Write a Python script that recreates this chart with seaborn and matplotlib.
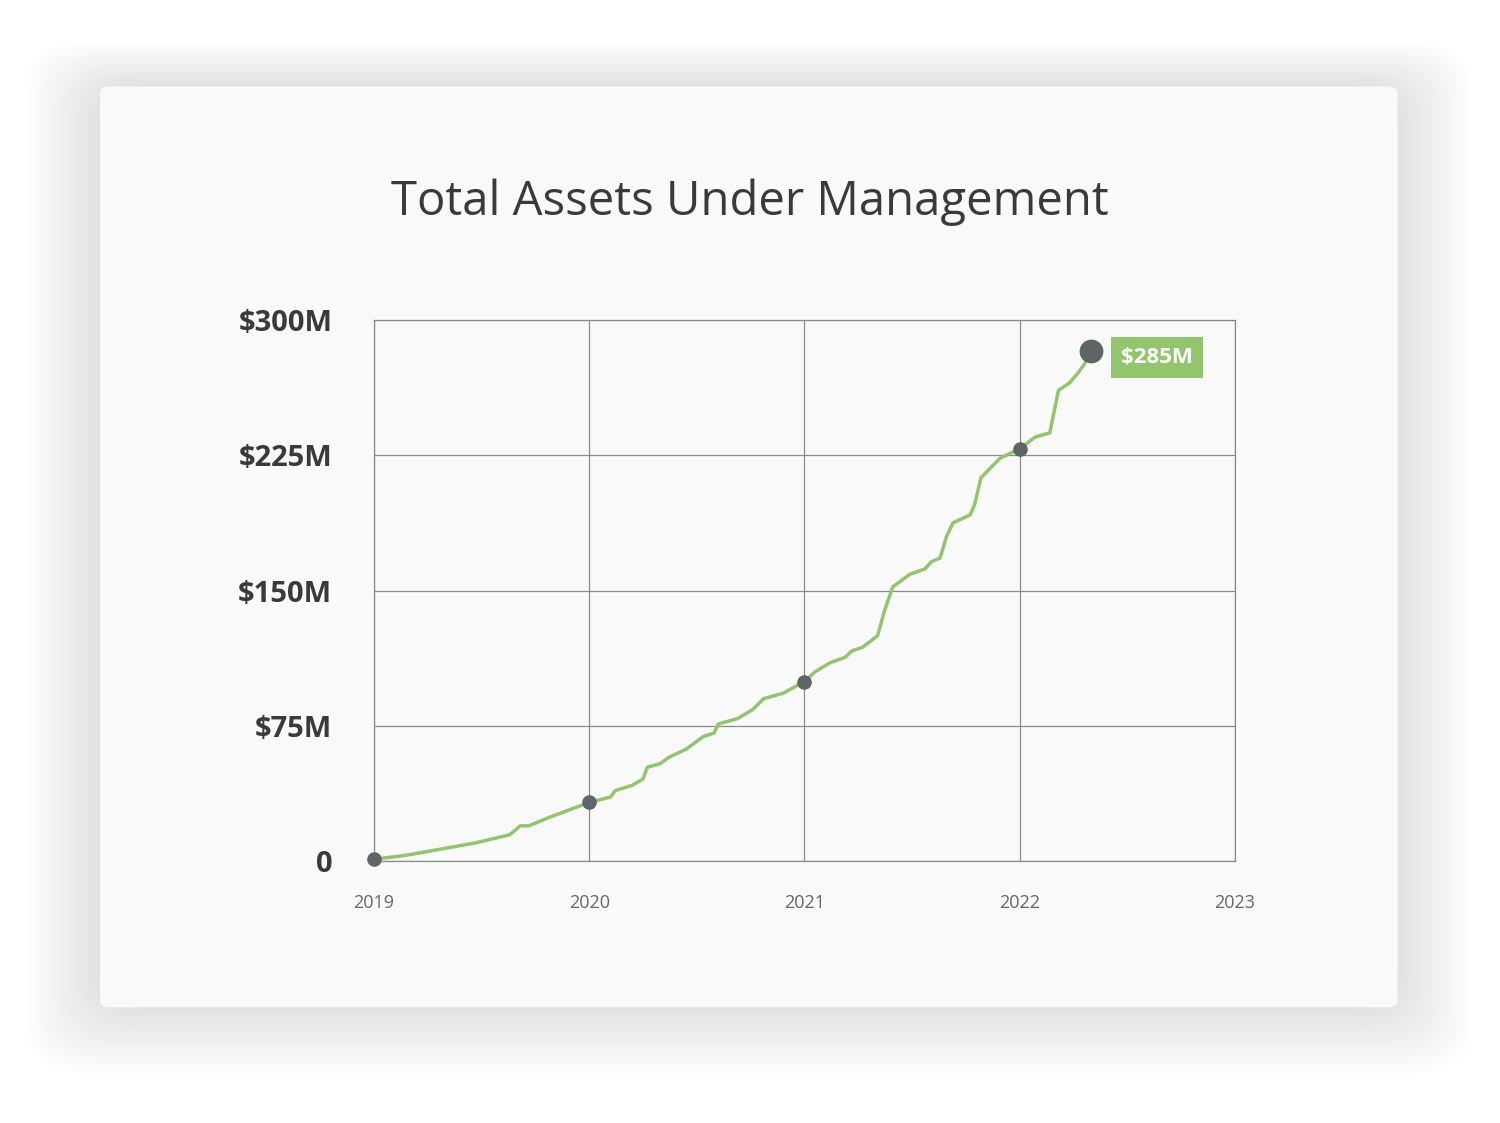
import numpy as np
import pandas as pd
import seaborn as sns
import matplotlib.pyplot as plt
from matplotlib.patches import FancyBboxPatch

# valores (ano fracionario, milhoes)
anos = [2019.00, 2019.14, 2019.26, 2019.47, 2019.63, 2019.68, 2019.72, 2019.81, 2019.90,
        2020.00, 2020.10, 2020.12, 2020.20, 2020.25, 2020.27, 2020.33, 2020.37, 2020.45,
        2020.53, 2020.58, 2020.60, 2020.69, 2020.76, 2020.81, 2020.90, 2021.00, 2021.05,
        2021.12, 2021.19, 2021.22, 2021.27, 2021.34, 2021.37, 2021.41, 2021.49, 2021.56,
        2021.59, 2021.63, 2021.66, 2021.69, 2021.77, 2021.79, 2021.82, 2021.86, 2021.91,
        2022.00, 2022.07, 2022.14, 2022.18, 2022.23, 2022.27, 2022.30, 2022.33]
aum = [1.0, 3.0, 5.5, 10.0, 14.5, 19.5, 19.5, 24.0, 28.0,
       32.5, 35.5, 39.0, 42.0, 45.5, 52.0, 54.0, 57.5, 62.0,
       69.0, 71.0, 76.0, 79.0, 84.0, 90.0, 93.0, 99.5, 105.0,
       110.0, 113.0, 116.5, 118.5, 125.0, 138.0, 152.0, 159.0, 162.0,
       166.0, 168.0, 180.0, 187.5, 192.0, 197.5, 212.5, 217.5, 223.5,
       228.5, 235.0, 237.5, 261.0, 265.0, 270.5, 275.5, 283.0]
marcos = [2019.0, 2020.0, 2021.0, 2022.0]
marcos_val = [1.0, 32.5, 99.5, 228.5]
y_ticks = [0, 75, 150, 225, 300]
y_labels = ['0', '$75M', '$150M', '$225M', '$300M']
x_ticks = [2019, 2020, 2021, 2022, 2023]

df = pd.DataFrame({'ano': anos, 'aum': aum})

sns.set_style('white')
plt.rcParams['font.family'] = ['Open Sans', 'DejaVu Sans']

fig = plt.figure(figsize=(15, 11.23), dpi=100)
fig.patch.set_facecolor('white')

# sombra suave + cartao
for i in range(30, 0, -1):
    pad = i * 0.0022
    fig.patches.append(FancyBboxPatch((0.0667 - pad * 0.75, 0.103 - pad * 0.9), 0.865 + pad * 1.5, 0.82 + pad * 1.5,
                                      boxstyle='round,pad=0,rounding_size=0.04', transform=fig.transFigure,
                                      facecolor='black', alpha=0.005, edgecolor='none', zorder=0))
fig.patches.append(FancyBboxPatch((0.0667, 0.103), 0.865, 0.82, boxstyle='round,pad=0,rounding_size=0.006',
                                  transform=fig.transFigure, facecolor='#f9f9f9', edgecolor='none', zorder=1))

ax = fig.add_axes([0.2493, 0.2333, 0.574, 0.4817])
ax.set_facecolor('#f9f9f9')
ax.set_zorder(2)

sns.lineplot(data=df, x='ano', y='aum', ax=ax, color='#93c46e', linewidth=2.5)
ax.scatter(marcos, marcos_val, s=90, color='#5f6466', zorder=5, clip_on=False)
ax.scatter([anos[-1]], [aum[-1]], s=260, color='#5f6466', zorder=5, clip_on=False)
ax.annotate('$285M', (anos[-1], aum[-1]), xytext=(22, -5), textcoords='offset points',
            color='white', fontsize=16, fontweight='bold', va='center', ha='left',
            bbox=dict(boxstyle='square,pad=0.45', facecolor='#93c46e', edgecolor='none'))

ax.set_xlim(2019, 2023)
ax.set_ylim(0, 300)
ax.set_xticks(x_ticks)
ax.set_xticklabels([str(t) for t in x_ticks], fontsize=13, color='#666666')
ax.set_yticks(y_ticks)
ax.set_yticklabels(y_labels, fontsize=21, fontweight='bold', color='#3a3a3a')
ax.tick_params(axis='y', pad=30, length=0)
ax.tick_params(axis='x', pad=24, length=0)
ax.grid(True, color='#8a8a8a', linewidth=0.9)
for s in ax.spines.values():
    s.set_color('#8a8a8a')
    s.set_linewidth(0.9)
ax.set_xlabel('')
ax.set_ylabel('')

fig.text(0.5, 0.82, 'Total Assets Under Management', ha='center', va='center',
         fontsize=34, color='#3a3a3a', zorder=3)

fig.savefig('out.png', dpi=100)
